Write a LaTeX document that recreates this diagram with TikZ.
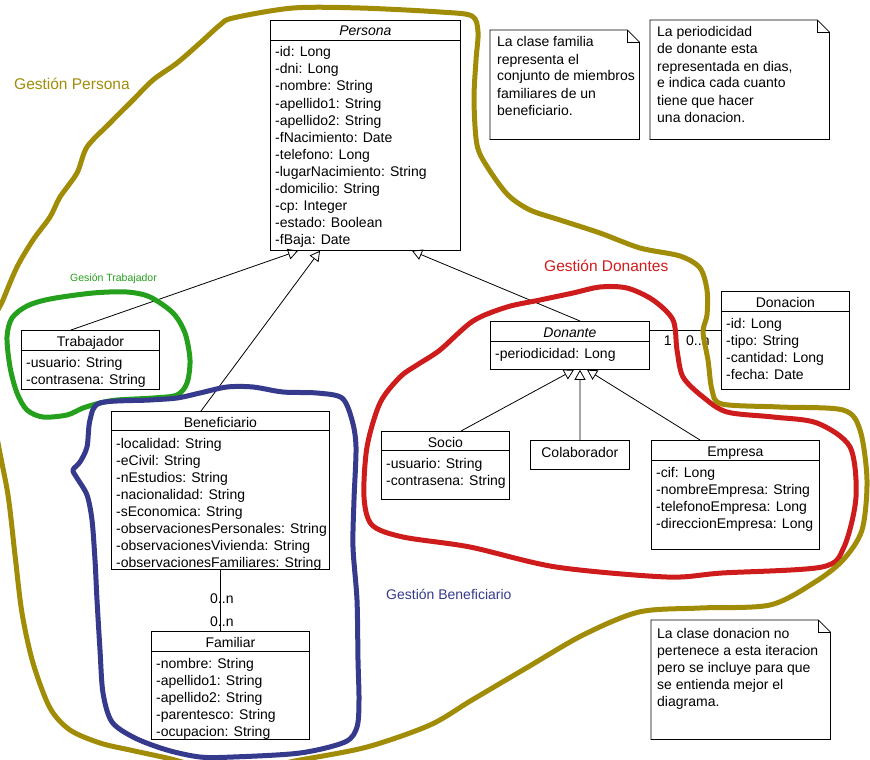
\documentclass[tikz,border=0pt]{standalone}
\usepackage{fontspec}
\setmainfont{Liberation Sans}
\usetikzlibrary{arrows.meta}
\definecolor{olivo}{RGB}{161,140,8}
\definecolor{rojo}{RGB}{206,28,28}
\definecolor{verde}{RGB}{36,160,28}
\definecolor{azul}{RGB}{54,58,140}

\begin{document}
\begin{tikzpicture}[x=1pt,y=-1pt,
 every node/.style={font=\fontsize{14}{17}\selectfont},
 clase/.style={draw,line width=0.8pt,fill=white,anchor=north west,inner sep=0pt},
 titulo/.style={anchor=base,inner sep=0pt},
 attr/.style={anchor=base west,inner sep=0pt},
 hueco/.style={anchor=north west,inner sep=0pt},
 gen/.style={line width=0.8pt,-{Triangle[open,length=10pt,width=11pt]}},
 mano/.style={line width=5pt,line join=round,line cap=round}]
\useasboundingbox (0,0) rectangle (870,760);
%Persona
\node[clase,minimum width=190pt,minimum height=230pt] (persona) at (270,20) {};
\node[titulo] (persona-t) at ([yshift=-16pt]persona.north) {\textit{Persona}};
\draw ([yshift=-20pt]persona.north west) -- ([yshift=-20pt]persona.north east);
\foreach \a [count=\i] in {-id: Long,-dni: Long,-nombre: String,-apellido1: String,-apellido2: String,-fNacimiento: Date,-telefono: Long,-lugarNacimiento: String,-domicilio: String,-cp: Integer,-estado: Boolean,-fBaja: Date}
  \node[attr] (persona-\i) at ([xshift=5pt,yshift={-(20+17*\i)*1pt}]persona.north west) {\a};
%Trabajador
\node[clase,minimum width=138pt,minimum height=59pt] (trabajador) at (21,330) {};
\node[titulo] (trabajador-t) at ([yshift=-16pt]trabajador.north) {Trabajador};
\draw ([yshift=-20pt]trabajador.north west) -- ([yshift=-20pt]trabajador.north east);
\foreach \a [count=\i] in {-usuario: String,-contrasena: String}
  \node[attr] (trabajador-\i) at ([xshift=5pt,yshift={-(20+17*\i)*1pt}]trabajador.north west) {\a};
%Beneficiario
\node[clase,minimum width=218pt,minimum height=158pt] (beneficiario) at (111,411) {};
\node[titulo] (beneficiario-t) at ([yshift=-16pt]beneficiario.north) {Beneficiario};
\draw ([yshift=-19pt]beneficiario.north west) -- ([yshift=-19pt]beneficiario.north east);
\foreach \a [count=\i] in {-localidad: String,-eCivil: String,-nEstudios: String,-nacionalidad: String,-sEconomica: String,-observacionesPersonales: String,-observacionesVivienda: String,-observacionesFamiliares: String}
  \node[attr] (beneficiario-\i) at ([xshift=5pt,yshift={-(20+17*\i)*1pt}]beneficiario.north west) {\a};
%Familiar
\node[clase,minimum width=158pt,minimum height=108pt] (familiar) at (151,631) {};
\node[titulo] (familiar-t) at ([yshift=-16pt]familiar.north) {Familiar};
\draw ([yshift=-20pt]familiar.north west) -- ([yshift=-20pt]familiar.north east);
\foreach \a [count=\i] in {-nombre: String,-apellido1: String,-apellido2: String,-parentesco: String,-ocupacion: String}
  \node[attr] (familiar-\i) at ([xshift=5pt,yshift={-(20+17*\i)*1pt}]familiar.north west) {\a};
%Donante
\node[clase,minimum width=159pt,minimum height=48pt] (donante) at (490,321) {};
\node[titulo] (donante-t) at ([yshift=-16pt]donante.north) {\textit{Donante}};
\draw ([yshift=-20pt]donante.north west) -- ([yshift=-20pt]donante.north east);
\node[attr] (donante-1) at ([xshift=5pt,yshift=-37pt]donante.north west) {-periodicidad: Long};
%Donacion
\node[clase,minimum width=128pt,minimum height=98pt] (donacion) at (721,291) {};
\node[titulo] (donacion-t) at ([yshift=-16pt]donacion.north) {Donacion};
\draw ([yshift=-20pt]donacion.north west) -- ([yshift=-20pt]donacion.north east);
\foreach \a [count=\i] in {-id: Long,-tipo: String,-cantidad: Long,-fecha: Date}
  \node[attr] (donacion-\i) at ([xshift=5pt,yshift={-(20+17*\i)*1pt}]donacion.north west) {\a};
%Socio, Colaborador, Empresa
\node[clase,minimum width=128pt,minimum height=68pt] (socio) at (381,431) {};
\node[titulo] (socio-t) at ([yshift=-16pt]socio.north) {Socio};
\draw ([yshift=-19pt]socio.north west) -- ([yshift=-19pt]socio.north east);
\foreach \a [count=\i] in {-usuario: String,-contrasena: String}
  \node[attr] (socio-\i) at ([xshift=5pt,yshift={-(20+17*\i)*1pt}]socio.north west) {\a};
\node[clase,minimum width=99pt,minimum height=29pt] (colaborador) at (530,440) {};
\node[titulo] (colaborador-t) at ([yshift=-17pt]colaborador.north) {Colaborador};
\node[clase,minimum width=168pt,minimum height=109pt] (empresa) at (651,440) {};
\node[titulo] (empresa-t) at ([yshift=-16pt]empresa.north) {Empresa};
\draw ([yshift=-20pt]empresa.north west) -- ([yshift=-20pt]empresa.north east);
\foreach \a [count=\i] in {-cif: Long,-nombreEmpresa: String,-telefonoEmpresa: Long,-direccionEmpresa: Long}
  \node[attr] (empresa-\i) at ([xshift=5pt,yshift={-(20+17*\i)*1pt}]empresa.north west) {\a};
%Herencia
\draw[gen] ([xshift=50pt]trabajador.north west) -- ([xshift=28pt]persona.south west);
\draw[gen] ([xshift=90pt]beneficiario.north west) -- ([xshift=50pt]persona.south west);
\draw[gen] ([xshift=90pt]donante.north west) -- ([xshift=142pt]persona.south west);
\draw[gen] ([xshift=80pt]socio.north west) -- ([xshift=84pt]donante.south west);
\draw[gen] (colaborador.north) -- ([xshift=90pt]donante.south west);
\draw[gen] ([xshift=49pt]empresa.north west) -- ([xshift=97pt]donante.south west);
%Asociaciones
\draw[line width=0.8pt] ([yshift=-9pt]donante.north east) -- ([yshift=-39pt]donacion.north west);
\node[titulo] (m1) at ([xshift=18pt,yshift=-24pt]donante.north east) {1};
\node[attr] (m2) at ([xshift=-35pt,yshift=-54pt]donacion.north west) {0..n};
\draw[line width=0.8pt] ([xshift=109pt]beneficiario.south west) -- ([xshift=69pt]familiar.north west);
\node[attr] (m3) at ([xshift=99pt,yshift=-34pt]beneficiario.south west) {0..n};
\node[attr] (m4) at ([xshift=59pt,yshift=5pt]familiar.north west) {0..n};
%Notas
\foreach \n/\x/\y/\w/\h in {nota1/490/30/149/109,nota2/650/20/179/119,nota3/651/620/179/119}{
  \node[hueco,minimum width=\w pt,minimum height=\h pt] (\n) at (\x,\y) {};
  \draw[line width=0.8pt] (\n.north west) -- ([xshift=-12pt]\n.north east) -- ([yshift=-12pt]\n.north east) -- (\n.south east) -- (\n.south west) -- cycle;
  \draw[line width=0.6pt] ([xshift=-12pt]\n.north east) -- ([xshift=-12pt,yshift=-12pt]\n.north east) -- ([yshift=-12pt]\n.north east);
}
\foreach \a [count=\i] in {La clase familia,representa el,conjunto de miembros,familiares de un,beneficiario.}
  \node[attr] (nota1-\i) at ([xshift=7pt,yshift={-17*\i*1pt}]nota1.north west) {\a};
\foreach \a [count=\i] in {La periodicidad,de donante esta,{representada en dias,},e indica cada cuanto,tiene que hacer,una donacion.}
  \node[attr] (nota2-\i) at ([xshift=7pt,yshift={-17*\i*1pt}]nota2.north west) {\a};
\foreach \a [count=\i] in {La clase donacion no,pertenece a esta iteracion,pero se incluye para que,se entienda mejor el,diagrama.}
  \node[attr] (nota3-\i) at ([xshift=6pt,yshift={-(1+17*\i)*1pt}]nota3.north west) {\a};
%Grupos a mano
\draw[mano,verde] plot[smooth cycle] coordinates {(93,293) (127,292) (150,297) (173,313) (185,333) (190,360) (187,383) (177,395) (153,398) (117,400) (100,403) (83,408) (67,415) (43,417) (27,410) (17,393) (10,367) (7,337) (12,318) (27,306) (50,299)};
\draw[mano,azul] plot[smooth cycle] coordinates {(100,403) (150,400) (177,398) (200,393) (227,387) (253,387) (283,392) (317,393) (342,398) (352,420) (356,447) (354,500) (353,547) (357,600) (358,660) (359,700) (357,727) (345,742) (300,753) (233,757) (200,757) (167,750) (135,738) (112,722) (103,693) (100,650) (97,600) (95,560) (92,520) (87,495) (77,478) (73,470) (80,462) (87,447) (90,420)};
\draw[mano,rojo] plot[smooth cycle] coordinates {(440,350) (473,321) (507,307) (540,300) (573,293) (600,287) (627,288) (653,300) (673,320) (677,350) (683,377) (703,397) (727,412) (773,417) (817,423) (850,447) (856,497) (844,547) (822,567) (722,573) (667,577) (556,567) (470,547) (403,537) (372,525) (364,497) (367,447) (380,403) (400,377) (417,365)};
\draw[mano,olivo] plot[smooth cycle] coordinates {(293,8) (360,8) (440,12) (472,16) (478,32) (476,60) (474,100) (477,145) (488,168) (508,195) (530,210) (560,220) (600,233) (640,248) (680,256) (700,268) (707,290) (707,315) (703,332) (708,360) (712,390) (722,404) (780,407) (843,410) (860,430) (867,480) (862,530) (843,560) (815,582) (770,605) (700,608) (639,612) (583,635) (528,667) (472,700) (430,725) (367,747) (300,760) (230,772) (167,758) (130,750) (100,743) (70,730) (50,708) (33,663) (22,613) (15,555) (8,495) (-3,437) (-10,380) (-5,320) (3,300) (17,267) (33,240) (50,217) (60,197) (77,173) (87,147) (110,123) (133,100) (153,80) (177,63) (200,43) (220,25) (233,18)};
%Rotulos de grupos
\node[attr,olivo,font=\fontsize{15.5}{18}\selectfont] (g-persona) at (14,89) {Gestión Persona};
\node[attr,verde,font=\fontsize{10.5}{12}\selectfont] (g-trabajador) at (70,281) {Gesión Trabajador};
\node[attr,rojo,font=\fontsize{15.5}{18}\selectfont] (g-donantes) at (544,271) {Gestión Donantes};
\node[attr,azul] (g-beneficiario) at (386,599) {Gestión Beneficiario};
\end{tikzpicture}
\end{document}
